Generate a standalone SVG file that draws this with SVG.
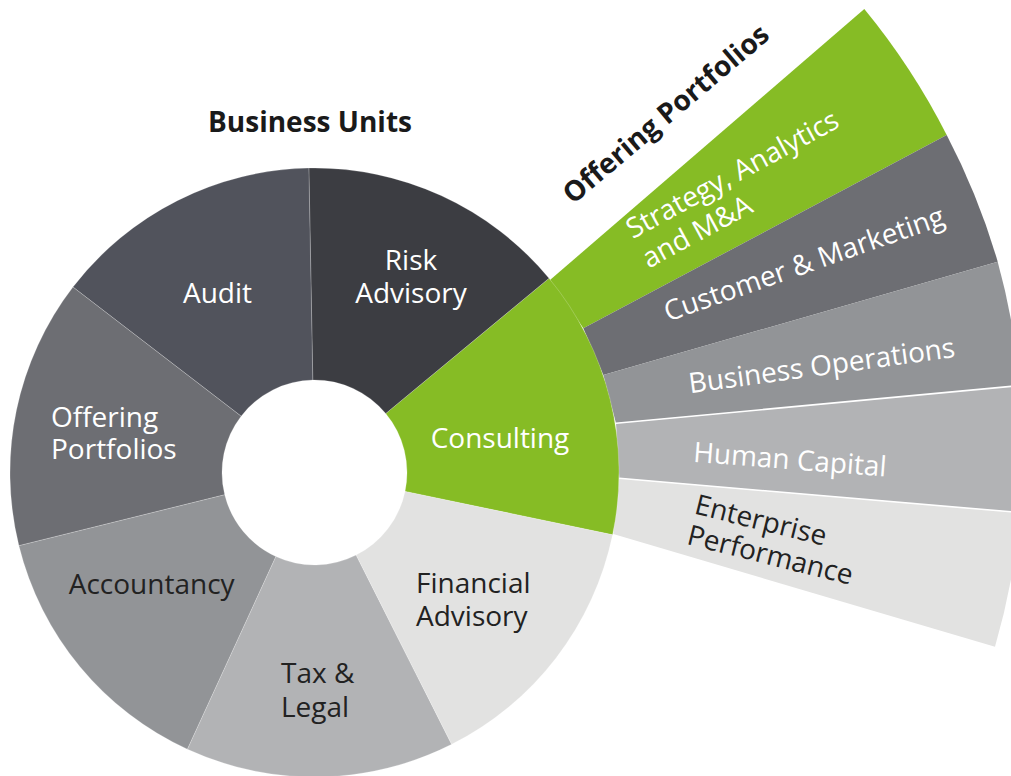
<svg xmlns="http://www.w3.org/2000/svg" width="1011" height="776" viewBox="0 0 1011 776">
<style>
.lbl{font-family:"Open Sans","Liberation Sans",sans-serif;font-size:28px}
.hd{font-family:"Open Sans","Liberation Sans",sans-serif;font-size:28px;font-weight:bold;fill:#1a1a1a}
.w{fill:#ffffff}
.d{fill:#222222}
.seg{stroke:#ffffff;stroke-width:0.6;stroke-opacity:0.35}
.sep{stroke:#ffffff;stroke-width:1.6;fill:none}
</style>
<rect width="1011" height="776" fill="#ffffff"/>

<!-- Offering portfolio fan (drawn first, donut covers inner edge) -->
<g id="fan">
  <g id="strategy-analytics">
    <path d="M550,280 L864.3,9 A693,693 0 0 1 946.7,135 L583.3,328.3 Z" fill="#86BC25"/>
    <text class="lbl w" transform="translate(632.7,239.3) rotate(-28.5)"><tspan x="0" y="0">Strategy, Analytics</tspan><tspan x="0" y="33.5">and M&amp;A</tspan></text>
  </g>
  <g id="customer-marketing">
    <path d="M583.3,328.3 L946.7,135 A693,693 0 0 1 997.7,261.7 L603.3,375 Z" fill="#6D6E73"/>
    <text class="lbl w" transform="translate(668,321.7) rotate(-19.3)">Customer &amp; Marketing</text>
  </g>
  <g id="business-operations">
    <path d="M603.3,375 L997.7,261.7 A693,693 0 0 1 1019.9,385.5 L616,423.3 Z" fill="#929497"/>
    <text class="lbl w" transform="translate(690,393.3) rotate(-7.8)">Business Operations</text>
  </g>
  <g id="human-capital">
    <path d="M616,423.3 L1019.9,385.5 A693,693 0 0 1 1020.1,512.6 L619.3,478.3 Z" fill="#B2B3B5"/>
    <text class="lbl w" transform="translate(692.7,461.7) rotate(4.4)">Human Capital</text>
  </g>
  <g id="enterprise-performance">
    <path d="M619.3,478.3 L1020.1,512.6 A693,693 0 0 1 995,646.7 L613.3,534 Z" fill="#E2E2E1"/>
    <text class="lbl d" transform="translate(693.3,513.3) rotate(14)"><tspan x="0" y="0">Enterprise</tspan><tspan x="0" y="31.5">Performance</tspan></text>
  </g>
  <g id="fan-separators">
    <line class="sep" x1="616" y1="423.3" x2="1019.9" y2="385.5"/>
    <line class="sep" x1="619.3" y1="478.3" x2="1020.1" y2="512.6"/>
  </g>
</g>

<!-- Business units donut -->
<g id="donut">
  <g id="consulting">
    <path class="seg" d="M612.57,534.77 A304.5,304.5 0 0 0 549.02,278.28 L385.74,413.5 A92.5,92.5 0 0 1 405.05,491.42 Z" fill="#86BC25"/>
    <text class="lbl w" x="500" y="447.7" text-anchor="middle">Consulting</text>
  </g>
  <g id="risk-advisory">
    <path class="seg" d="M549.02,278.28 A304.5,304.5 0 0 0 308.87,168.05 L312.79,380.02 A92.5,92.5 0 0 1 385.74,413.5 Z" fill="#3C3D42"/>
    <text class="lbl w" text-anchor="middle"><tspan x="411" y="269.5">Risk</tspan><tspan x="411" y="303.3">Advisory</tspan></text>
  </g>
  <g id="audit">
    <path class="seg" d="M308.87,168.05 A304.5,304.5 0 0 0 72.96,287.09 L241.13,416.18 A92.5,92.5 0 0 1 312.79,380.02 Z" fill="#51535C"/>
    <text class="lbl w" x="217.5" y="303.3" text-anchor="middle">Audit</text>
  </g>
  <g id="offering-portfolios">
    <path class="seg" d="M72.96,287.09 A304.5,304.5 0 0 0 18.93,545.7 L224.71,494.74 A92.5,92.5 0 0 1 241.13,416.18 Z" fill="#6D6E73"/>
    <text class="lbl w"><tspan x="51" y="426.7">Offering</tspan><tspan x="51" y="459.3">Portfolios</tspan></text>
  </g>
  <g id="accountancy">
    <path class="seg" d="M18.93,545.7 A304.5,304.5 0 0 0 187.45,749.24 L275.91,556.57 A92.5,92.5 0 0 1 224.71,494.74 Z" fill="#929497"/>
    <text class="lbl d" x="151.7" y="594" text-anchor="middle">Accountancy</text>
  </g>
  <g id="tax-legal">
    <path class="seg" d="M187.45,749.24 A304.5,304.5 0 0 0 451.65,744.37 L356.16,555.09 A92.5,92.5 0 0 1 275.91,556.57 Z" fill="#B2B3B5"/>
    <text class="lbl d"><tspan x="281" y="683.3">Tax &amp;</tspan><tspan x="281" y="716.7">Legal</tspan></text>
  </g>
  <g id="financial-advisory">
    <path class="seg" d="M451.65,744.37 A304.5,304.5 0 0 0 612.57,534.77 L405.05,491.42 A92.5,92.5 0 0 1 356.16,555.09 Z" fill="#E2E2E1"/>
    <text class="lbl d"><tspan x="416" y="592.7">Financial</tspan><tspan x="416" y="626">Advisory</tspan></text>
  </g>
</g>

<g id="titles">
  <text id="business-units-title" class="hd" x="310" y="132" text-anchor="middle">Business Units</text>
  <text id="offering-portfolios-title" class="hd" transform="translate(573,205) rotate(-40.2)">Offering Portfolios</text>
</g>

<g id="connectors"></g>
</svg>
